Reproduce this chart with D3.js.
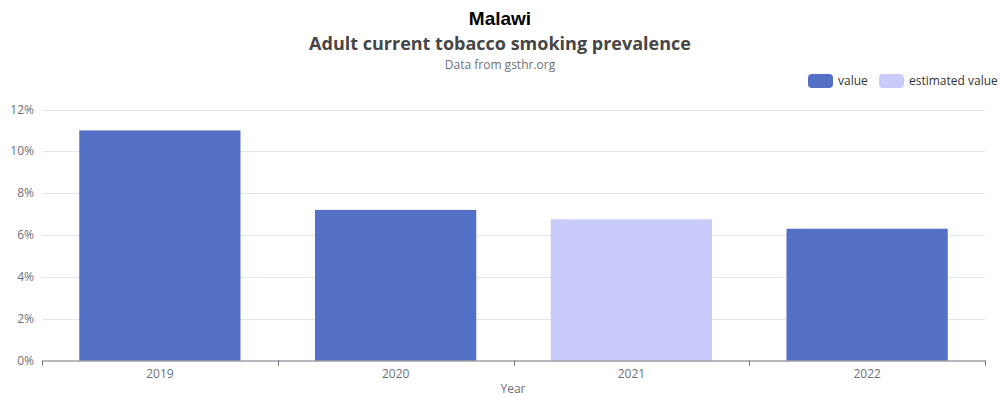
<!DOCTYPE html>
<meta charset="utf-8">
<script src="https://d3js.org/d3.v7.min.js"></script>
<style>
  body { margin: 0; background: #fff; }
  text { font-family: "Open Sans", "Noto Sans", sans-serif; }
</style>
<body>
<div id="my_dataviz"></div>
<script>
    var years = ["2019", "2020", "2021", "2022"]
    var values = [11.0, 7.2, 6.75, 6.3]
    var estimated = [false, false, true, false]
    var yTicks = [0, 2, 4, 6, 8, 10, 12]
    var legendNames = ["value", "estimated value"]

    var width = 1000,
        height = 397
    var colValue = "#5470c6",
        colEst = "#c8cbfa"

    var svg = d3.select("#my_dataviz")
        .append("svg")
        .attr("width", width)
        .attr("height", height)

    // titles
    svg.append("text")
        .attr("x", 500).attr("y", 25)
        .attr("text-anchor", "middle")
        .style("font-family", "'Liberation Sans', Arial, sans-serif")
        .style("font-weight", "bold")
        .style("font-size", "19px")
        .style("fill", "#000")
        .text("Malawi")
    svg.append("text")
        .attr("x", 500).attr("y", 50)
        .attr("text-anchor", "middle")
        .style("font-weight", "bold")
        .style("font-size", "18px")
        .style("fill", "#464646")
        .text("Adult current tobacco smoking prevalence")
    svg.append("text")
        .attr("x", 500).attr("y", 69)
        .attr("text-anchor", "middle")
        .style("font-size", "12px")
        .style("fill", "#6e7079")
        .text("Data from gsthr.org")

    var x = d3.scaleBand()
        .domain(years)
        .range([42, 985])
        .paddingInner(0.316)
        .paddingOuter(0.158)

    var y = d3.scaleLinear()
        .domain([0, 12])
        .range([360.5, 109.5])

    // grid lines
    svg.append("g")
        .selectAll("line")
        .data(yTicks.slice(1))
        .enter()
        .append("line")
        .attr("x1", 42).attr("x2", 985)
        .attr("y1", function(d) { return Math.round(y(d)) + 0.5 })
        .attr("y2", function(d) { return Math.round(y(d)) + 0.5 })
        .attr("stroke", "#e0e6f1")

    // y labels
    svg.append("g")
        .selectAll("text")
        .data(yTicks)
        .enter()
        .append("text")
        .attr("x", 34)
        .attr("y", function(d) { return y(d) + 4 })
        .attr("text-anchor", "end")
        .style("font-size", "12px")
        .style("fill", "#6e7079")
        .text(function(d) { return d + "%" })

    // bars
    svg.append("g")
        .selectAll("rect")
        .data(years)
        .enter()
        .append("rect")
        .attr("x", function(d) { return x(d) })
        .attr("width", x.bandwidth())
        .attr("y", function(d, i) { return y(values[i]) })
        .attr("height", function(d, i) { return y(0) - y(values[i]) })
        .attr("fill", function(d, i) { return estimated[i] ? colEst : colValue })

    // x axis
    var xAxis = d3.axisBottom(x).tickSize(0).tickPadding(9)
    var gx = svg.append("g")
        .attr("transform", "translate(0," + 360.5 + ")")
        .call(xAxis)
    gx.select(".domain").attr("stroke", "#6e7079")
    gx.selectAll("text")
        .style("font-size", "12px")
        .style("fill", "#6e7079")
        .style("font-family", "'Open Sans', sans-serif")

    // boundary ticks between bands
    var step = x.step()
    var bounds = d3.range(years.length + 1).map(function(i) { return 42 + i * step })
    gx.selectAll(".bound")
        .data(bounds)
        .enter()
        .append("line")
        .attr("class", "bound")
        .attr("x1", function(d) { return Math.round(d) + 0.5 })
        .attr("x2", function(d) { return Math.round(d) + 0.5 })
        .attr("y1", 0).attr("y2", 5)
        .attr("stroke", "#6e7079")

    svg.append("text")
        .attr("x", 513).attr("y", 393)
        .attr("text-anchor", "middle")
        .style("font-size", "12px")
        .style("fill", "#6e7079")
        .text("Year")

    // legend
    var legend = svg.append("g")
    var legendX = [808, 879]
    var legendCol = [colValue, colEst]
    legendNames.forEach(function(name, i) {
        legend.append("rect")
            .attr("x", legendX[i]).attr("y", 74)
            .attr("width", 25).attr("height", 14)
            .attr("rx", 4)
            .attr("fill", legendCol[i])
        legend.append("text")
            .attr("x", legendX[i] + 30).attr("y", 85)
            .style("font-size", "12px")
            .style("fill", "#333")
            .text(name)
    })
</script>
</body>
